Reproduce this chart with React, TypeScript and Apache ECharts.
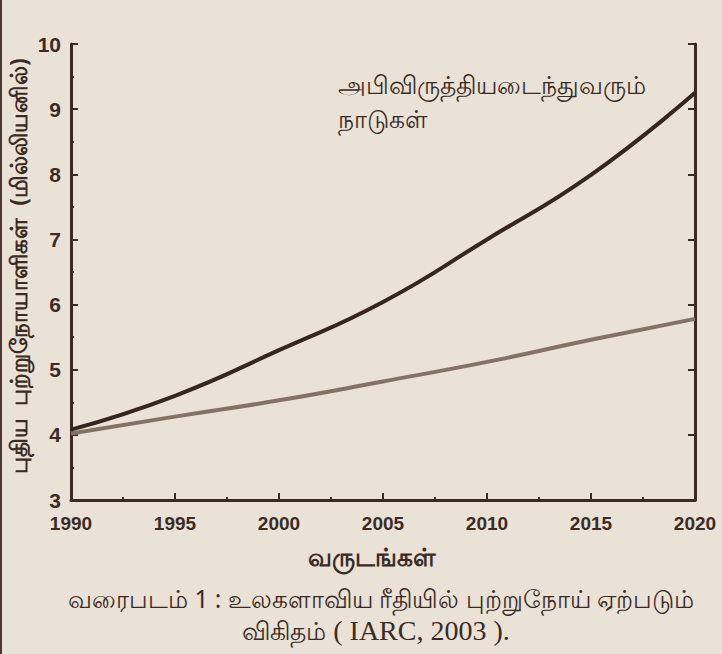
import React, { useEffect, useRef } from "react";
import * as echarts from "echarts";

const years = [1990, 1995, 2000, 2005, 2010, 2015, 2020];
const developing = [4.08, 4.6, 5.3, 6.04, 7.0, 7.99, 9.25];
const developed = [4.02, 4.28, 4.53, 4.82, 5.12, 5.46, 5.78];

const yTitle = "புதிய  புற்றுநோயாளிகள்  (மில்லியனில்)";
const xTitle = "வருடங்கள்";
const annotation1 = "அபிவிருத்தியடைந்துவரும்";
const annotation2 = "நாடுகள்";
const caption1 = "வரைபடம் 1 : உலகளாவிய ரீதியில் புற்றுநோய் ஏற்படும்";
const caption2a = "விகிதம்";
const caption2b = " ( IARC, 2003 ).";

const ink = "#3a2c25";
const bg = "#eae1d7";
const sans = "'Noto Sans', 'Liberation Sans', sans-serif";

export default function App() {
  const ref = useRef<HTMLDivElement>(null);
  useEffect(() => {
    if (!ref.current) return;
    const chart = echarts.init(ref.current, undefined, { renderer: "svg" });
    const axisLabel = { color: ink, fontSize: 19, fontWeight: "bold", fontFamily: "'Liberation Sans', Arial, sans-serif" };
    chart.setOption({
      animation: false,
      backgroundColor: bg,
      grid: { left: 71, right: 27, top: 44, bottom: 154 },
      xAxis: {
        type: "value",
        min: 1990,
        max: 2020,
        interval: 5,
        axisLine: { show: true, lineStyle: { color: ink, width: 3 } },
        axisTick: { show: true, inside: true, length: 7, lineStyle: { color: ink, width: 2 } },
        minorTick: { show: true, splitNumber: 2, length: 3, lineStyle: { color: ink, width: 2 } },
        splitLine: { show: false },
        axisLabel: { ...axisLabel, margin: 13, lineHeight: 20, formatter: (v: number) => String(v) },
      },
      yAxis: [
        {
          type: "value",
          min: 3,
          max: 10,
          interval: 1,
          axisLine: { show: true, lineStyle: { color: ink, width: 3 } },
          axisTick: { show: true, inside: true, length: 7, lineStyle: { color: ink, width: 2 } },
          minorTick: { show: true, splitNumber: 2, length: 3, lineStyle: { color: ink, width: 2 } },
          splitLine: { show: false },
          axisLabel: { ...axisLabel, fontSize: 21, lineHeight: 21, margin: 10 },
        },
        {
          type: "value",
          position: "right",
          min: 3,
          max: 10,
          interval: 1,
          axisLine: { show: true, lineStyle: { color: ink, width: 3 } },
          axisTick: { show: true, inside: true, length: 7, lineStyle: { color: ink, width: 2 } },
          splitLine: { show: false },
          axisLabel: { show: false },
        },
      ],
      series: [
        {
          type: "line",
          data: years.map((y, i) => [y, developed[i]]),
          smooth: true,
          showSymbol: false,
          lineStyle: { color: "#857266", width: 4 },
          z: 2,
        },
        {
          type: "line",
          data: years.map((y, i) => [y, developing[i]]),
          smooth: true,
          showSymbol: false,
          lineStyle: { color: "#35261f", width: 4 },
          z: 3,
        },
      ],
      graphic: [
        { type: "line", shape: { x1: 1, y1: 0, x2: 1, y2: 654 }, style: { stroke: "#4a3a33", lineWidth: 2 } },
        {
          type: "text",
          x: 18,
          y: 266,
          rotation: Math.PI / 2,
          style: { text: yTitle, fill: ink, font: `bold 23px ${sans}`, align: "center", verticalAlign: "middle" },
        },
        {
          type: "text",
          x: 372,
          y: 556,
          style: { text: xTitle, fill: ink, font: `bold 25px ${sans}`, align: "center", verticalAlign: "middle" },
        },
        {
          type: "text",
          left: 338,
          top: 67,
          style: { text: annotation1 + "\n" + annotation2, fill: ink, font: `25px ${sans}`, lineHeight: 34 },
        },
        {
          type: "text",
          x: 381,
          y: 598,
          style: { text: caption1, fill: ink, font: `24.5px ${sans}`, align: "center", verticalAlign: "middle" },
        },
        {
          type: "text",
          x: 376,
          y: 630,
          style: {
            text: `{a|${caption2a}}{b|${caption2b}}`,
            align: "center",
            verticalAlign: "middle",
            rich: {
              a: { fill: ink, font: `25px ${sans}` },
              b: { fill: ink, font: `28px 'Liberation Serif', 'Times New Roman', serif` },
            },
          },
        },
      ],
    });
    return () => chart.dispose();
  }, []);
  return <div ref={ref} style={{ position: "fixed", left: 0, top: 0, width: 722, height: 654 }} />;
}
